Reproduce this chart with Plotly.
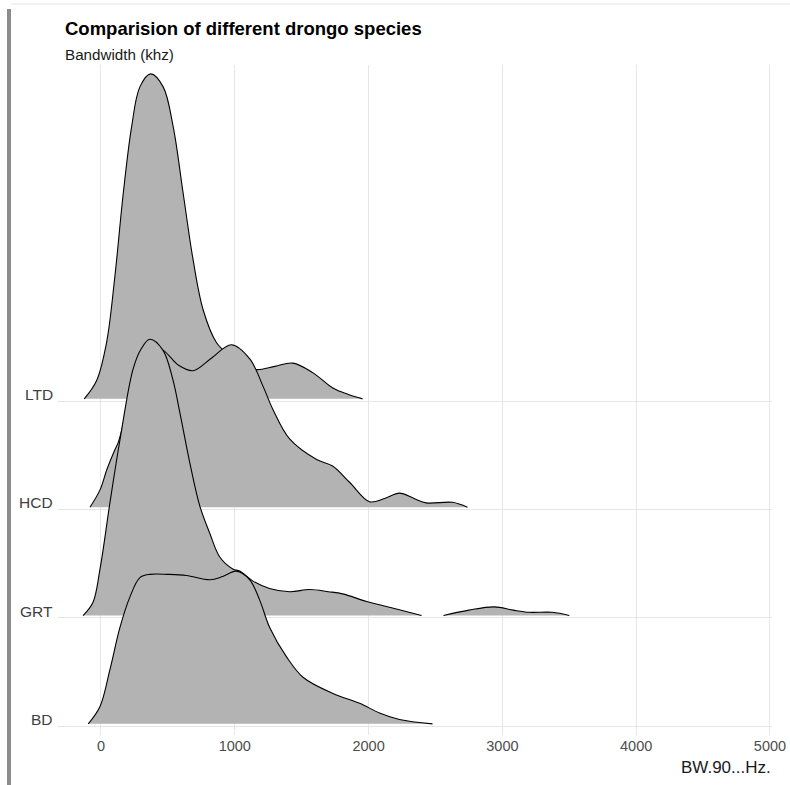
import plotly.graph_objects as go

# ---- data ----
species = ["BD", "GRT", "HCD", "LTD"]
baselines = [1, 2, 3, 4]

ltd_hz = [-125, -32, 42, 104, 167, 229, 291, 371, 465, 540, 614, 689, 764, 863,
          960, 1060, 1162, 1300, 1435, 1585, 1733, 1850, 1955]
ltd_h = [0.02, 0.19, 0.54, 1.15, 1.92, 2.53, 2.90, 3.02, 2.90, 2.53, 1.92, 1.30, 0.84, 0.54,
         0.42, 0.33, 0.29, 0.32, 0.35, 0.26, 0.12, 0.06, 0.02]

hcd_hz = [-82, -7, 45, 104, 130, 200, 280, 370, 463, 580, 689, 830, 975, 1112, 1210,
          1286, 1410, 1612, 1731, 1858, 2007, 2120, 2231, 2340, 2431, 2627, 2739]
hcd_h = [0.02, 0.18, 0.37, 0.55, 0.62, 0.95, 1.30, 1.50, 1.47, 1.33, 1.28, 1.40, 1.52, 1.39, 1.14,
         0.92, 0.65, 0.46, 0.40, 0.25, 0.07, 0.10, 0.15, 0.10, 0.06, 0.065, 0.02]

grt_hz = [-134, -60, -7, 67, 142, 239, 300, 366, 463, 537, 590, 664, 739, 813, 888, 985,
          1037, 1134, 1260, 1410, 1560, 1700, 1806, 1985, 2179, 2396,
          None,
          2560, 2750, 2940, 3080, 3200, 3373, 3500]
grt_h = [0.02, 0.14, 0.45, 1.06, 1.64, 2.29, 2.48, 2.57, 2.47, 2.20, 1.89, 1.43, 1.03, 0.78, 0.56, 0.45,
         0.43, 0.34, 0.27, 0.24, 0.26, 0.24, 0.22, 0.15, 0.09, 0.02,
         None,
         0.02, 0.07, 0.10, 0.07, 0.05, 0.05, 0.02]

bd_hz = [-95, -7, 67, 142, 216, 291, 366, 500, 639, 813, 910, 1012, 1112, 1187, 1261,
         1386, 1510, 1734, 1933, 2082, 2231, 2478]
bd_h = [0.02, 0.18, 0.52, 0.91, 1.19, 1.37, 1.40, 1.40, 1.39, 1.35, 1.38, 1.43, 1.35, 1.16, 0.91,
        0.64, 0.45, 0.30, 0.21, 0.12, 0.06, 0.02]

x_ticks = [0, 1000, 2000, 3000, 4000, 5000]
title_text = "Comparision of different drongo species"
subtitle_text = "Bandwidth (khz)"
x_title = "BW.90...Hz."

FILL = "#b3b3b3"
FONT = "Liberation Sans, Arial, sans-serif"

FIG_W, FIG_H = 790, 785
ML, PLOT_W = 58, 714
MT, PLOT_H = 65, 670

fig = go.Figure()

# draw top ridge first so lower ridges overlap it
ridges = [("LTD", 4, ltd_hz, ltd_h), ("HCD", 3, hcd_hz, hcd_h),
          ("GRT", 2, grt_hz, grt_h), ("BD", 1, bd_hz, bd_h)]
for name, base, xs, hs in ridges:
    ys = [None if h is None else base + h for h in hs]
    fig.add_trace(go.Scatter(
        x=xs, y=ys, mode="lines", name=name,
        line=dict(color="black", width=1.1, shape="spline", smoothing=1.0),
        fill="toself", fillcolor=FILL, connectgaps=False,
        hoverinfo="skip", showlegend=False,
    ))

fig.update_xaxes(
    range=[-321, 5015], tickvals=x_ticks, ticktext=[str(v) for v in x_ticks],
    showgrid=True, gridcolor="#e6e6e6", gridwidth=1, zeroline=False,
    showline=False, ticks="", tickfont=dict(family=FONT, size=14.5, color="#4d4d4d"),
)
fig.update_yaxes(
    range=[0.917, 7.102], tickvals=baselines, showticklabels=False,
    showgrid=True, gridcolor="#e6e6e6", gridwidth=1, zeroline=False,
    showline=False, ticks="",
)

def px_x(px):
    return (px - ML) / PLOT_W

def px_y(py):
    return (MT + PLOT_H - py) / PLOT_H

annotations = []
for name, base in zip(species, baselines):
    annotations.append(dict(
        x=px_x(55), xref="paper", y=base, yref="y", text=name, showarrow=False,
        xanchor="right", yanchor="bottom", yshift=-4,
        font=dict(family=FONT, size=15.5, color="#404040"),
    ))
annotations.append(dict(
    x=px_x(63), xref="paper", y=px_y(29), yref="paper", text="<b>" + title_text + "</b>",
    showarrow=False, xanchor="left", yanchor="middle",
    font=dict(family=FONT, size=18.5, color="black"),
))
annotations.append(dict(
    x=px_x(63), xref="paper", y=px_y(54), yref="paper", text=subtitle_text,
    showarrow=False, xanchor="left", yanchor="middle",
    font=dict(family=FONT, size=15.2, color="#1a1a1a"),
))
annotations.append(dict(
    x=px_x(773), xref="paper", y=px_y(768), yref="paper", text=x_title,
    showarrow=False, xanchor="right", yanchor="middle",
    font=dict(family=FONT, size=17, color="#1a1a1a"),
))

shapes = [
    # grey left frame strip of the screenshot
    dict(type="rect", xref="paper", yref="paper",
         x0=px_x(7), x1=px_x(11), y0=px_y(790), y1=px_y(9),
         fillcolor="#8c8c8c", line=dict(width=0), layer="below"),
    # faint top line of the screenshot
    dict(type="line", xref="paper", yref="paper",
         x0=px_x(11), x1=px_x(790), y0=px_y(4), y1=px_y(4),
         line=dict(color="#e6e6e6", width=1), layer="below"),
]

fig.update_layout(
    width=FIG_W, height=FIG_H,
    margin=dict(l=ML, r=FIG_W - ML - PLOT_W, t=MT, b=FIG_H - MT - PLOT_H, autoexpand=False),
    paper_bgcolor="white", plot_bgcolor="white",
    annotations=annotations, shapes=shapes,
    font=dict(family=FONT),
)

fig.write_html(
    "out.html",
    config={"displayModeBar": False},
    post_script="document.body.style.margin='0';document.body.style.overflow='hidden';",
)
